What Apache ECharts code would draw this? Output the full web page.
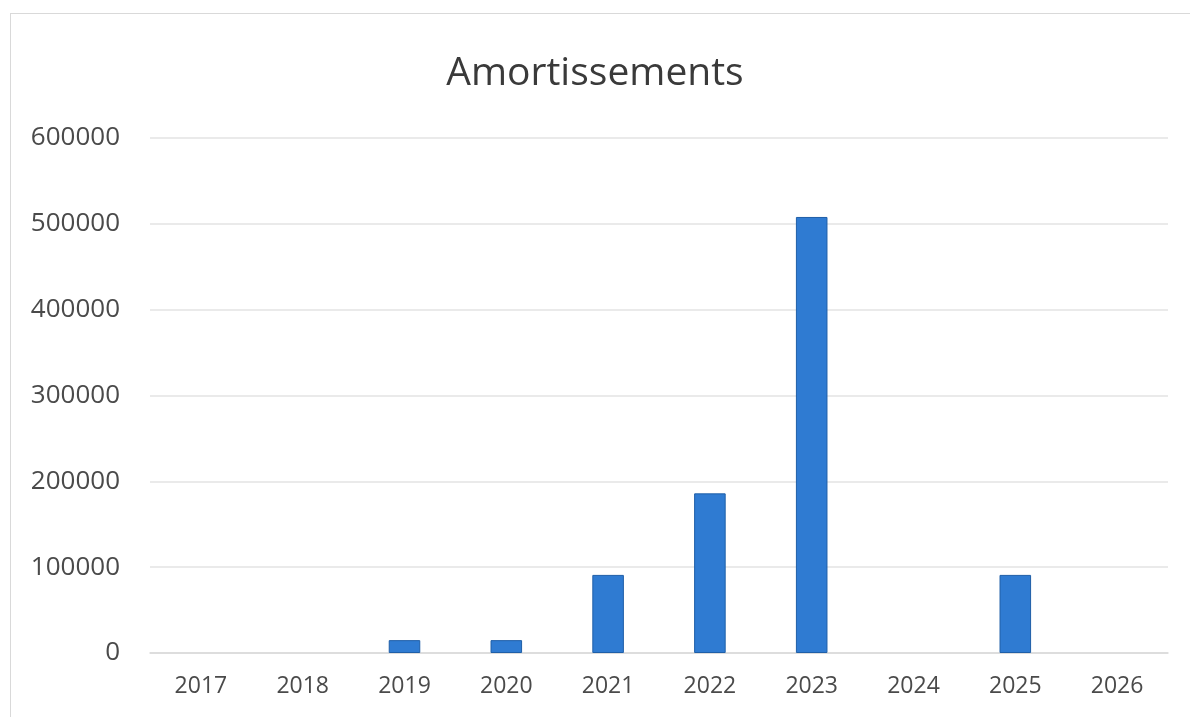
<!DOCTYPE html>
<html><head><meta charset="utf-8">
<script src="https://cdn.jsdelivr.net/npm/echarts@6/dist/echarts.min.js"></script>
<style>
html,body{margin:0;padding:0;background:#fff;}
#frame{position:absolute;left:10px;top:13px;width:1185px;height:710px;border:1px solid #d9d9d9;box-sizing:border-box;}
#c{position:absolute;left:0;top:0;width:1190px;height:717px;}
</style></head>
<body><div id="frame"></div><div id="c"></div>
<script>
const categories = ['2017','2018','2019','2020','2021','2022','2023','2024','2025','2026'];
const values = [0, 0, 15000, 15000, 91000, 186000, 508000, 0, 91000, 0];
const title = 'Amortissements';

const chart = echarts.init(document.getElementById('c'));
chart.setOption({
  backgroundColor: 'transparent',
  animation: false,
  title: { text: title, left: 'center', top: 49, textStyle: { fontFamily: 'Open Sans', fontWeight: 'normal', fontSize: 39, color: '#3a3a3a' } },
  grid: { left: 150, right: 22, top: 138, bottom: 64 },
  xAxis: {
    type: 'category', data: categories,
    axisLine: { lineStyle: { color: '#d9d9d9', width: 1.5 } },
    axisTick: { show: false },
    axisLabel: { fontFamily: 'Open Sans', fontSize: 23, color: '#4a4a4a', margin: 22 }
  },
  yAxis: {
    type: 'value', min: 0, max: 600000, interval: 100000,
    axisLine: { show: false }, axisTick: { show: false },
    splitLine: { lineStyle: { color: '#e3e3e3', width: 1.5 } },
    axisLabel: { fontFamily: 'Open Sans', fontSize: 26, color: '#4a4a4a', margin: 30,
      formatter: v => String(v) }
  },
  series: [{
    type: 'bar', barWidth: '31%',
    data: values.map(v => v === 0 ? { value: v, itemStyle: { borderWidth: 0 } } : v),
    itemStyle: { color: '#2f7bd2', borderColor: '#1f5fa8', borderWidth: 1 }
  }]
});
</script></body></html>
